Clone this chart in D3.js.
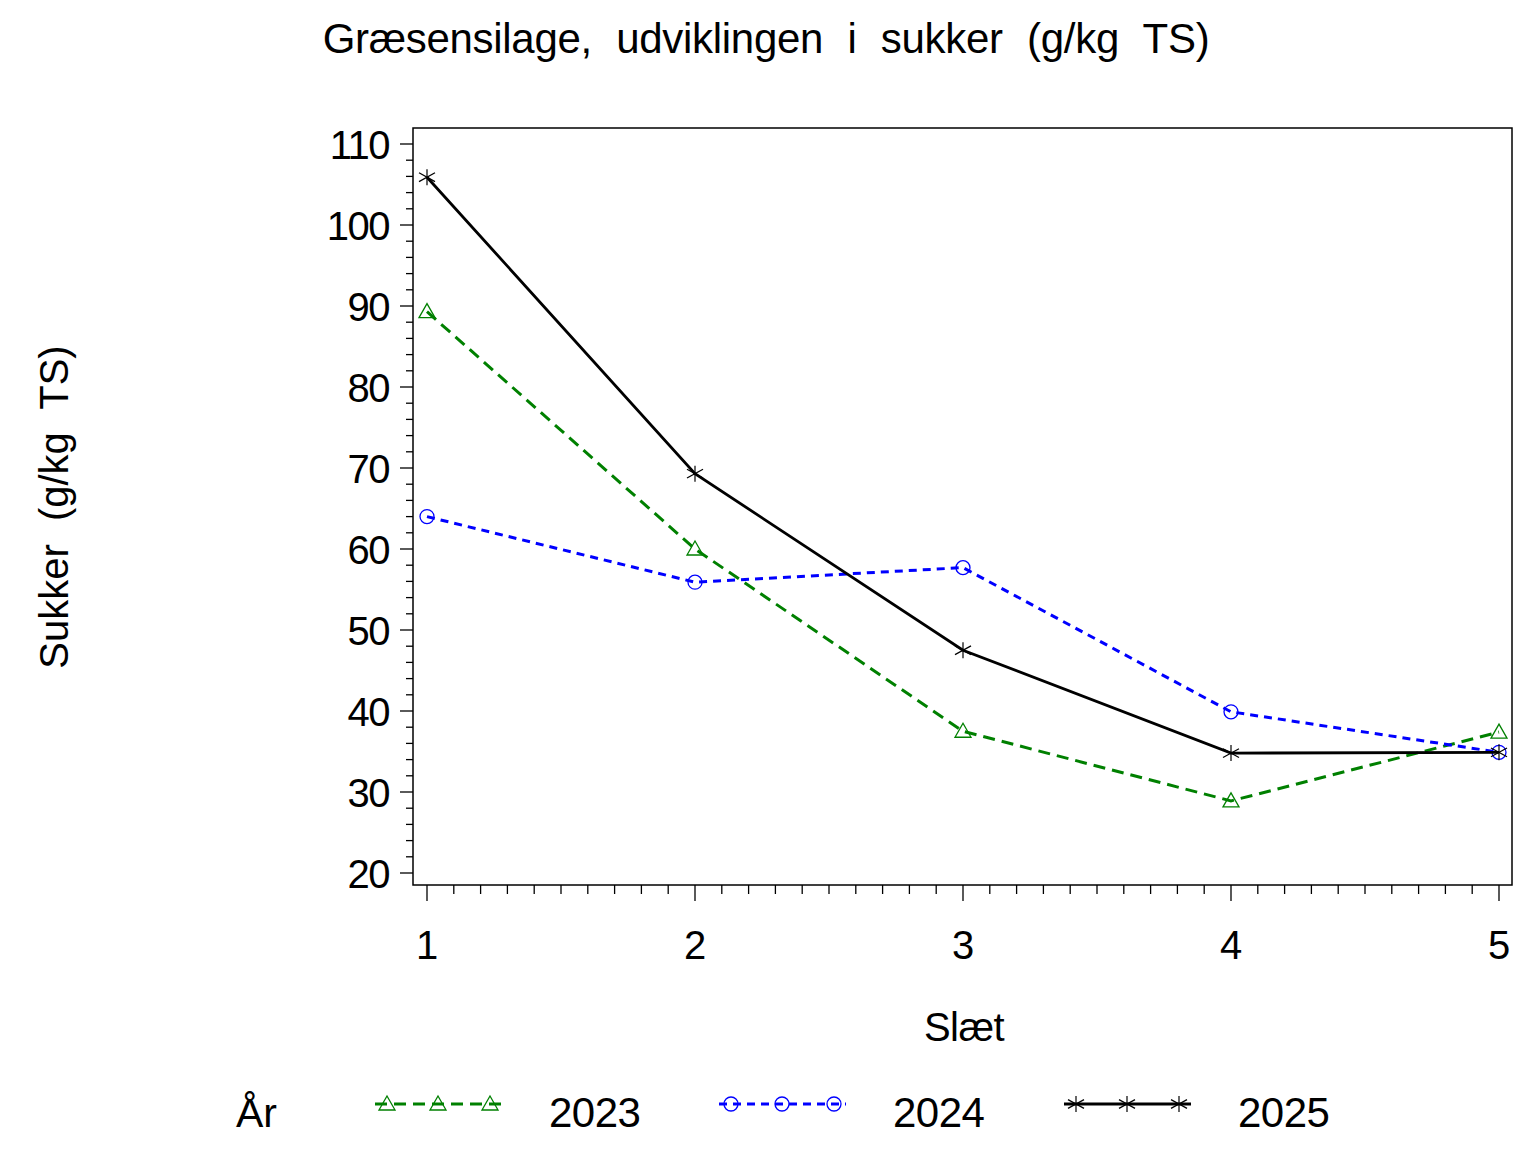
<!DOCTYPE html>
<html lang="da">
<head>
<meta charset="UTF-8">
<title>Græsensilage, sukker</title>
<script src="https://d3js.org/d3.v7.min.js"></script>
</head>
<body style="margin:0px;background:#fff;">
<script>
var slaet = [1, 2, 3, 4, 5];
var years = ['2023', '2024', '2025'];
var sukker2023 = [89.3, 60.0, 37.5, 28.9, 37.4];
var sukker2024 = [64.0, 55.9, 57.7, 39.9, 34.9];
var sukker2025 = [105.9, 69.3, 47.5, 34.8, 34.9];
var yTicks = [20, 30, 40, 50, 60, 70, 80, 90, 100, 110];

var series = [
    {name: years[0], values: sukker2023, color: '#008000', dash: '12,7', width: 3, symbol: 'triangle'},
    {name: years[1], values: sukker2024, color: '#0000ff', dash: '8,6', width: 3, symbol: 'circle'},
    {name: years[2], values: sukker2025, color: '#000000', dash: null, width: 2.8, symbol: 'star'}
];

var width = 1536, height = 1152;
var plotLeft = 413, plotRight = 1512, plotTop = 128, plotBottom = 885;
var font = '"Liberation Sans", Arial, sans-serif';

var svg = d3.select('body').append('svg')
        .attr('width', width)
        .attr('height', height)
        .style('font-family', font);

var x = d3.scaleLinear().domain([1, 5]).range([427, 1499]);
var y = d3.scaleLinear().domain([20, 110]).range([873, 144]);

// frame
svg.append('rect')
        .attr('x', plotLeft).attr('y', plotTop)
        .attr('width', plotRight - plotLeft).attr('height', plotBottom - plotTop)
        .attr('fill', 'none').attr('stroke', '#000').attr('stroke-width', 1.5);

// y axis
var yMinor = d3.range(20, 111, 2);
svg.selectAll('line.ymin').data(yMinor).enter().append('line')
        .attr('x1', function (d) { return d % 10 == 0 ? plotLeft - 13 : plotLeft - 7; })
        .attr('x2', plotLeft)
        .attr('y1', function (d) { return y(d); })
        .attr('y2', function (d) { return y(d); })
        .attr('stroke', '#000').attr('stroke-width', 1.3);
svg.selectAll('text.ytick').data(yTicks).enter().append('text')
        .attr('x', 389)
        .attr('y', function (d) { return y(d) + 15; })
        .attr('text-anchor', 'end')
        .attr('font-size', '40px')
        .attr('letter-spacing', '-1.5px')
        .text(function (d) { return d; });

// x axis
var xMinor = d3.range(10, 51, 1).map(function (d) { return d / 10; });
svg.selectAll('line.xmin').data(xMinor).enter().append('line')
        .attr('x1', function (d) { return x(d); })
        .attr('x2', function (d) { return x(d); })
        .attr('y1', plotBottom)
        .attr('y2', function (d) { return Math.abs(d - Math.round(d)) < 1e-6 ? plotBottom + 16 : plotBottom + 9; })
        .attr('stroke', '#000').attr('stroke-width', 1.3);
svg.selectAll('text.xtick').data(slaet).enter().append('text')
        .attr('x', function (d) { return x(d); })
        .attr('y', 959)
        .attr('text-anchor', 'middle')
        .attr('font-size', '40px')
        .text(function (d) { return d; });

// labels
svg.append('text')
        .attr('x', 766).attr('y', 53)
        .attr('text-anchor', 'middle')
        .attr('font-size', '42px')
        .attr('word-spacing', '13px')
        .attr('letter-spacing', '-0.3px')
        .text('Græsensilage, udviklingen i sukker (g/kg TS)');
svg.append('text')
        .attr('x', 964).attr('y', 1041)
        .attr('text-anchor', 'middle')
        .attr('font-size', '40px')
        .attr('letter-spacing', '-0.5px')
        .text('Slæt');
svg.append('text')
        .attr('transform', 'translate(68,507) rotate(-90)')
        .attr('text-anchor', 'middle')
        .attr('font-size', '40px')
        .attr('word-spacing', '12px')
        .attr('letter-spacing', '0px')
        .text('Sukker (g/kg TS)');

function drawSymbol(g, type, cx, cy, color) {
    if (type == 'triangle') {
        g.append('path')
                .attr('d', 'M' + cx + ',' + (cy - 8) + 'L' + (cx + 8) + ',' + (cy + 6) + 'L' + (cx - 8) + ',' + (cy + 6) + 'Z')
                .attr('fill', 'none').attr('stroke', color).attr('stroke-width', 1.3);
    } else if (type == 'circle') {
        g.append('circle').attr('cx', cx).attr('cy', cy).attr('r', 7)
                .attr('fill', 'none').attr('stroke', color).attr('stroke-width', 1.3);
    } else {
        var r = 8;
        [[0, -r, 0, r], [-r, -r * 0.55, r, r * 0.55], [-r, r * 0.55, r, -r * 0.55]].forEach(function (s) {
            g.append('line')
                    .attr('x1', cx + s[0]).attr('y1', cy + s[1])
                    .attr('x2', cx + s[2]).attr('y2', cy + s[3])
                    .attr('stroke', color).attr('stroke-width', 1.2);
        });
    }
}

var line = d3.line()
        .x(function (d, i) { return x(slaet[i]); })
        .y(function (d) { return y(d); });

series.forEach(function (s) {
    svg.append('path')
            .attr('d', line(s.values))
            .attr('fill', 'none')
            .attr('stroke', s.color)
            .attr('stroke-width', s.width)
            .attr('stroke-dasharray', s.dash);
    var g = svg.append('g');
    s.values.forEach(function (v, i) {
        drawSymbol(g, s.symbol, x(slaet[i]), y(v), s.color);
    });
});

// legend
svg.append('text')
        .attr('x', 236).attr('y', 1127)
        .attr('font-size', '41px')
        .text('År');
var legX = [375, 719, 1064];
var legY = 1104;
series.forEach(function (s, i) {
    var x0 = legX[i], x1 = legX[i] + 127;
    svg.append('line')
            .attr('x1', x0).attr('x2', x1)
            .attr('y1', legY).attr('y2', legY)
            .attr('stroke', s.color)
            .attr('stroke-width', s.width)
            .attr('stroke-dasharray', s.dash);
    var g = svg.append('g');
    [x0 + 12, x0 + 63, x0 + 115].forEach(function (px) {
        drawSymbol(g, s.symbol, px, legY, s.color);
    });
    svg.append('text')
            .attr('x', x0 + 174).attr('y', 1127)
            .attr('font-size', '42px')
            .attr('letter-spacing', '-0.5px')
            .text(s.name);
});
</script>
</body>
</html>
